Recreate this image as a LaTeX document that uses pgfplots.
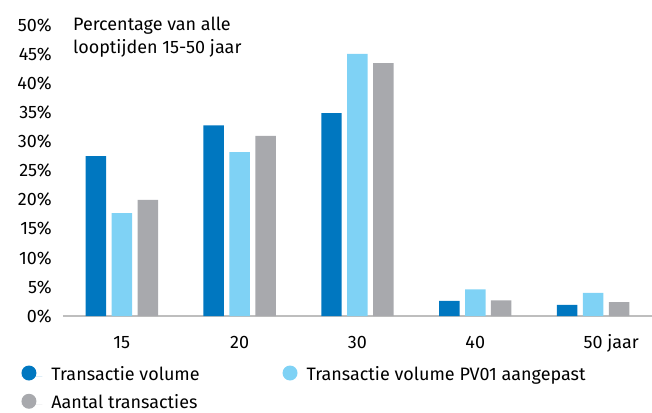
\documentclass[border=0pt]{standalone}
\usepackage{fontspec}
\setmainfont{Fira Sans}
\usepackage{pgfplots}
\pgfplotsset{compat=1.18}

\definecolor{donker}{RGB}{0,119,192}
\definecolor{licht}{RGB}{127,210,245}
\definecolor{grijs}{RGB}{168,169,173}
\definecolor{aslijn}{RGB}{190,190,190}

\begin{document}
\fontsize{18bp}{23bp}\selectfont
\begin{tikzpicture}
\begin{axis}[
  name=ax,
  scale only axis,
  clip=false,
  width=590bp, height=291bp,
  ybar=5.5bp, bar width=20.5bp,
  xmin=-0.5, xmax=4.5,
  ymin=0, ymax=50,
  xtick=data,
  xticklabels={15,20,30,40,{50\rlap{~jaar}}},
  ytick={0,5,...,50},
  yticklabel={\pgfmathprintnumber{\tick}\%},
  /pgf/number format/assume math mode=true,
  axis x line*=bottom, axis y line*=left,
  x axis line style={draw=aslijn, line width=1.5bp, -},
  y axis line style={draw=none},
  tick style={draw=none},
  yticklabel style={anchor=east, inner sep=0pt, xshift=-11bp},
  xticklabel style={anchor=base, inner sep=0pt, yshift=-28.5bp},
  legend columns=2,
  legend cell align=left,
  legend style={draw=none, fill=none, inner sep=0pt, outer sep=0pt,
    at={(0,0)}, anchor=north west, xshift=-41.5bp, yshift=-49.6bp,
    row sep=9.2bp, column sep=0pt,
    nodes={inner sep=0pt, text height=13bp, text depth=4bp},
    /tikz/every odd column/.append style={column sep=9bp},
    /tikz/every even column/.append style={column sep=83bp}},
]
\addplot[fill=donker, draw=none,
  legend image code/.code={\path (0bp,0bp) -- (21bp,0bp);
    \fill[donker] (7.5bp,3.1bp) circle (7.5bp);}]
  coordinates {(0,27.5) (1,32.8) (2,34.9) (3,2.6) (4,1.9)};
\addplot[fill=licht, draw=none,
  legend image code/.code={\fill[licht] (7.5bp,3.1bp) circle (7.5bp);}]
  coordinates {(0,17.7) (1,28.2) (2,45.1) (3,4.6) (4,4.0)};
\addplot[fill=grijs, draw=none,
  legend image code/.code={\path (0bp,0bp) -- (21bp,0bp);
    \fill[grijs] (7.5bp,3.1bp) circle (7.5bp);}]
  coordinates {(0,20.0) (1,31.0) (2,43.5) (3,2.7) (4,2.4)};
\legend{Transactie volume, Transactie volume PV01 aangepast, Aantal transacties}
\node[anchor=base west, inner sep=0pt, xshift=10bp, yshift=-5.5bp] at (rel axis cs:0,1) {Percentage van alle};
\node[anchor=base west, inner sep=0pt, xshift=10bp, yshift=-28.5bp] at (rel axis cs:0,1) {looptijden 15-50 jaar};
\end{axis}
\pgfresetboundingbox
\path[use as bounding box] ([shift={(-63bp,-96.5bp)}]ax.south west) rectangle ([shift={(0bp,25.5bp)}]ax.north east);
\end{tikzpicture}
\end{document}
